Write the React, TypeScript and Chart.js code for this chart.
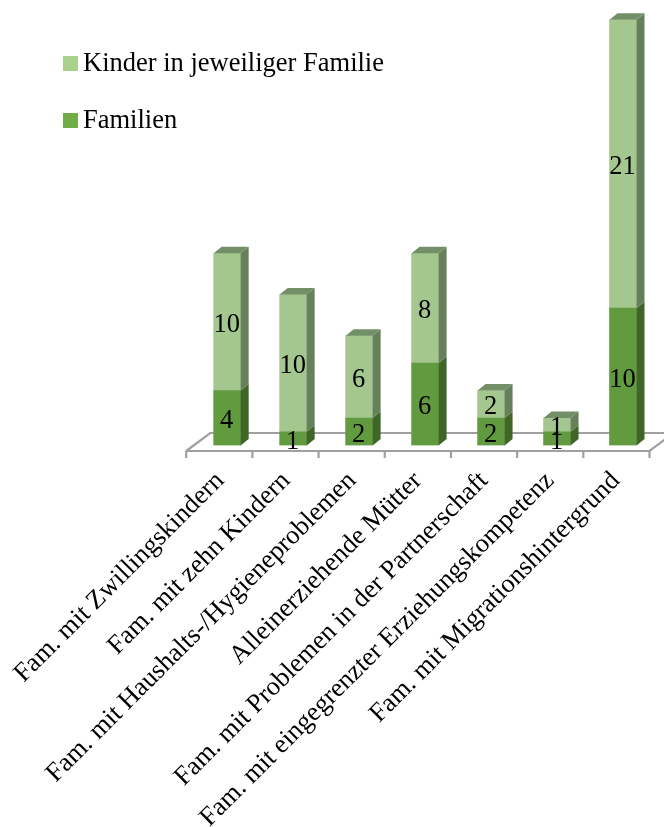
import React, { useEffect, useRef } from "react";
import { Chart, registerables } from "chart.js";

Chart.register(...registerables);

const categories = [
  "Fam. mit Zwillingskindern",
  "Fam. mit zehn Kindern",
  "Fam. mit Haushalts-/Hygieneproblemen",
  "Alleinerziehende Mütter",
  "Fam. mit Problemen in der Partnerschaft",
  "Fam. mit eingegrenzter Erziehungskompetenz",
  "Fam. mit Migrationshintergrund",
];
const familien = [4, 1, 2, 6, 2, 1, 10];
const kinder = [10, 10, 6, 8, 2, 1, 21];

const FONT = '"Liberation Serif", "Times New Roman", serif';
const DX = 8;
const DY = 6.5;
const faces = [
  { front: "#619A3F", side: "#3F6527", top: "#4F7B33" },
  { front: "#A3C78F", side: "#66805C", top: "#738F68" },
];

const bars3d = {
  id: "bars3d",
  beforeDatasetsDraw(chart: any) {
    const { ctx, scales } = chart;
    const x = scales.x;
    const y0 = scales.y.getPixelForValue(0);
    const frontY = y0 + 5.5;
    const backY = y0 - 12.5;
    const left = x.left - 8;
    const right = x.right - 6.5;
    ctx.save();
    ctx.strokeStyle = "#A0A0A0";
    ctx.lineWidth = 2.2;
    ctx.beginPath();
    ctx.moveTo(left, frontY);
    ctx.lineTo(left + 24, backY);
    ctx.lineTo(chart.width, backY);
    ctx.moveTo(left, frontY);
    ctx.lineTo(right, frontY);
    ctx.lineTo(right + 24, backY);
    const step = (right - left) / categories.length;
    for (let i = 0; i <= categories.length; i++) {
      ctx.moveTo(left + i * step, frontY);
      ctx.lineTo(left + i * step, frontY + 7);
    }
    ctx.stroke();
    ctx.restore();
  },
  afterDatasetsDraw(chart: any) {
    const { ctx } = chart;
    ctx.save();
    chart.data.datasets.forEach((_: any, di: number) => {
      chart.getDatasetMeta(di).data.forEach((bar: any) => {
        const r = bar.x + bar.width / 2;
        const l = bar.x - bar.width / 2;
        ctx.fillStyle = faces[di].side;
        ctx.beginPath();
        ctx.moveTo(r, bar.base);
        ctx.lineTo(r + DX, bar.base - DY);
        ctx.lineTo(r + DX, bar.y - DY);
        ctx.lineTo(r, bar.y);
        ctx.closePath();
        ctx.fill();
        if (di === chart.data.datasets.length - 1) {
          ctx.fillStyle = faces[di].top;
          ctx.beginPath();
          ctx.moveTo(l, bar.y);
          ctx.lineTo(l + DX, bar.y - DY);
          ctx.lineTo(r + DX, bar.y - DY);
          ctx.lineTo(r, bar.y);
          ctx.closePath();
          ctx.fill();
        }
      });
    });
    // value labels
    ctx.fillStyle = "#000";
    ctx.font = `26.5px ${FONT}`;
    ctx.textAlign = "center";
    ctx.textBaseline = "middle";
    chart.data.datasets.forEach((ds: any, di: number) => {
      chart.getDatasetMeta(di).data.forEach((bar: any, i: number) => {
        ctx.fillText(String(ds.data[i]), bar.x - 0.5, (bar.y + bar.base) / 2 + 3);
      });
    });
    // legend
    ctx.textAlign = "left";
    ctx.textBaseline = "alphabetic";
    [...chart.data.datasets].reverse().forEach((ds: any, i: number) => {
      const top = 56 + i * 57;
      ctx.fillStyle = ds.legendColor;
      ctx.fillRect(63, top, 15, 15);
      ctx.fillStyle = "#000";
      ctx.fillText(ds.label, 83, top + 15);
    });
    ctx.restore();
  },
};

export default function App() {
  const ref = useRef<HTMLCanvasElement>(null);
  useEffect(() => {
    const chart = new Chart(ref.current!, {
      type: "bar",
      data: {
        labels: categories,
        datasets: [
          { label: "Familien", data: familien, backgroundColor: faces[0].front, legendColor: "#70AD47", barThickness: 27 } as any,
          { label: "Kinder in jeweiliger Familie", data: kinder, backgroundColor: faces[1].front, legendColor: "#A9D18E", barThickness: 27 } as any,
        ],
      },
      options: {
        responsive: false,
        devicePixelRatio: 1,
        animation: false,
        layout: { padding: { left: 192.5, right: 8, top: 6, bottom: 0 } },
        plugins: { legend: { display: false }, tooltip: { enabled: false } },
        scales: {
          x: {
            stacked: true,
            grid: { display: false },
            border: { display: false },
            afterFit: (s: any) => {
              s.height = 827 - 445.5;
            },
            ticks: {
              autoSkip: false,
              maxRotation: 45,
              minRotation: 45,
              color: "#000",
              padding: 12,
              labelOffset: -7,
              font: { family: FONT, size: 26.5 },
            },
          },
          y: { stacked: true, display: false, min: 0, max: 32 },
        },
      },
      plugins: [bars3d],
    });
    return () => chart.destroy();
  }, []);
  return (
    <div style={{ position: "absolute", left: 0, top: 0 }}>
      <canvas ref={ref} width={664} height={827} style={{ display: "block" }} />
    </div>
  );
}
